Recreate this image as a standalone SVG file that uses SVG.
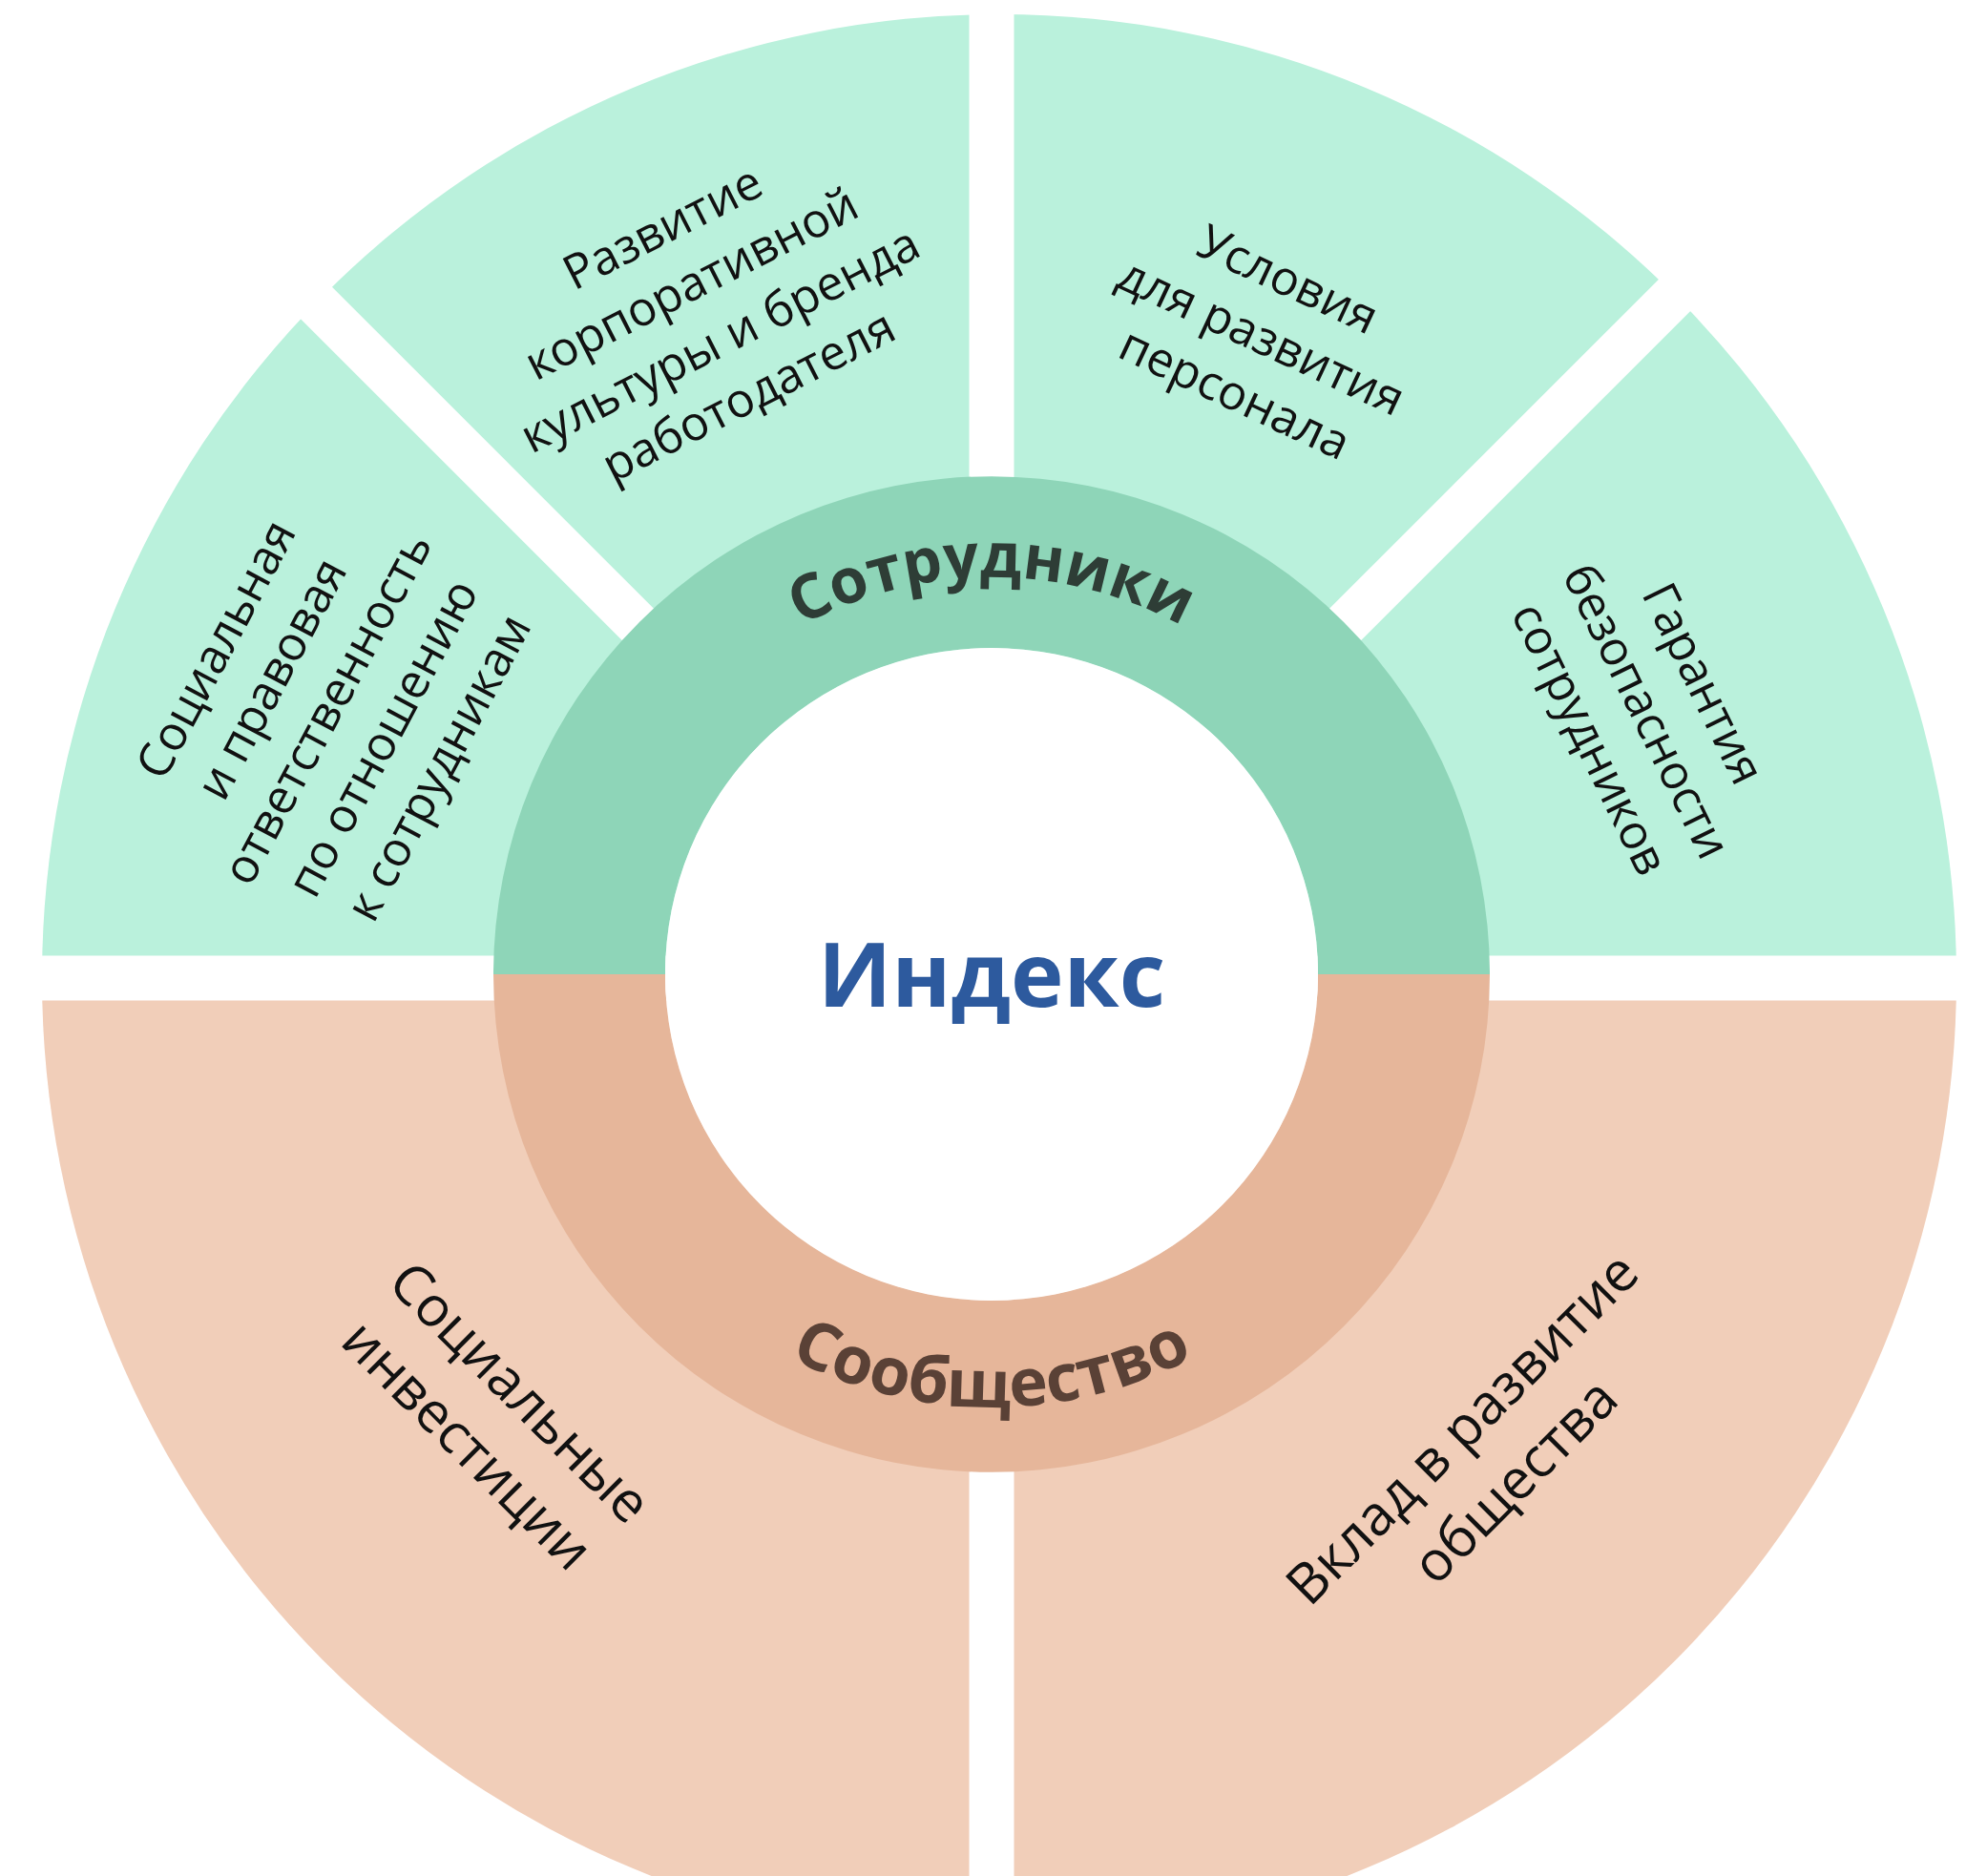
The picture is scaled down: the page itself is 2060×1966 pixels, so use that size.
<svg xmlns="http://www.w3.org/2000/svg" width="2060" height="1966" viewBox="0 0 2060 1966">
<style>
.lt{fill:#BAF1DC}
.ls{fill:#F1CEB9}
.dt{fill:#8ED5B8}
.ds{fill:#E6B69A}
.lbl{font-family:"Open Sans","Noto Sans",sans-serif;font-size:50px;fill:#111;text-anchor:middle}
.lbl2{font-family:"Open Sans","Noto Sans",sans-serif;font-size:58px;fill:#111;text-anchor:middle}
.ring{font-family:"Open Sans","Noto Sans",sans-serif;font-weight:700;text-anchor:middle}
</style>
<defs>
<clipPath id="outer"><ellipse cx="1047" cy="1025" rx="1003" ry="1010"/></clipPath>
<path id="arcTop" d="M 623 1021 A 416 416 0 0 1 1455 1021"/>
<path id="arcBot" d="M 585 1021 A 454 454 0 0 0 1493 1021"/>
</defs>
<rect width="2060" height="1966" fill="#FFFFFF"/>
<g clip-path="url(#outer)">
<g id="sector-social-responsibility">
<polygon class="lt" points="982.3,1001.5 -10,1001.5 -10,9.2"/>
<text class="lbl" transform="translate(342,742) rotate(-62)"><tspan x="0" y="-114">Социальная</tspan><tspan x="0" y="-48">и правовая</tspan><tspan x="0" y="18">ответственность</tspan><tspan x="0" y="84">по отношению</tspan><tspan x="0" y="150">к сотрудникам</tspan></text>
</g>
<g id="sector-corporate-culture">
<polygon class="lt" points="1015.5,968.3 1015.5,-10 37.2,-10"/>
<text class="lbl" transform="translate(739,326) rotate(-27)"><tspan x="0" y="-81">Развитие</tspan><tspan x="0" y="-15">корпоративной</tspan><tspan x="0" y="51">культуры и бренда</tspan><tspan x="0" y="117">работодателя</tspan></text>
</g>
<g id="sector-staff-development">
<polygon class="lt" points="1062.5,968.3 1062.5,-10 2040.8,-10"/>
<text class="lbl" transform="translate(1322,352) rotate(25)"><tspan x="0" y="-48">Условия</tspan><tspan x="0" y="18">для развития</tspan><tspan x="0" y="84">персонала</tspan></text>
</g>
<g id="sector-safety">
<polygon class="lt" points="1095.7,1001.5 2100,1001.5 2100,-2.8"/>
<text class="lbl" transform="translate(1726,745) rotate(64)"><tspan x="0" y="-48">Гарантия</tspan><tspan x="0" y="18">безопасности</tspan><tspan x="0" y="84">сотрудников</tspan></text>
</g>
<g id="sector-social-investment">
<rect class="ls" x="-10" y="1048.5" width="1025.5" height="930"/>
<text class="lbl2" transform="translate(518,1486) rotate(45)"><tspan x="0" y="-18">Социальные</tspan><tspan x="0" y="60">инвестиции</tspan></text>
</g>
<g id="sector-society-contribution">
<rect class="ls" x="1062.5" y="1048.5" width="1010" height="930"/>
<text class="lbl2" transform="translate(1559,1524) rotate(-45)"><tspan x="0" y="-18">Вклад в развитие</tspan><tspan x="0" y="60">общества</tspan></text>
</g>
</g>
<g id="ring-employees">
<path class="dt" d="M 517 1021 A 522 522 0 0 1 1561 1021 L 1381 1021 A 342 342 0 0 0 697 1021 Z"/>
<text class="ring" font-size="65" fill="#2E3D36"><textPath href="#arcTop" startOffset="50%">Сотрудники</textPath></text>
</g>
<g id="ring-community">
<path class="ds" d="M 517 1021 A 522 522 0 0 0 1561 1021 L 1381 1021 A 342 342 0 0 1 697 1021 Z"/>
<text class="ring" font-size="69" fill="#5A4136"><textPath href="#arcBot" startOffset="50%">Сообщество</textPath></text>
</g>
<g id="center-index">
<circle cx="1039" cy="1021" r="342" fill="#FFFFFF"/>
<text x="1039" y="1055" font-family="'Open Sans','Noto Sans',sans-serif" font-size="94" font-weight="700" fill="#2D5A9E" text-anchor="middle">Индекс</text>
</g>
<g id="connectors"></g>
</svg>
